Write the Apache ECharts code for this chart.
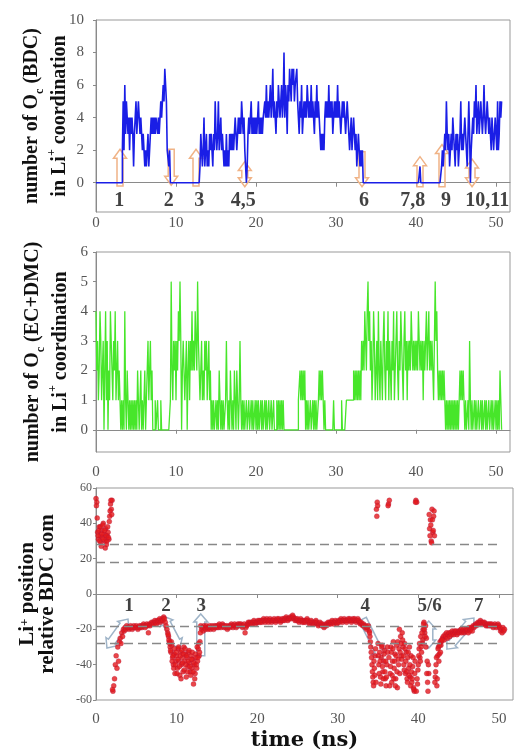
<!DOCTYPE html>
<html>
<head>
<meta charset="utf-8">
<script src="https://cdn.jsdelivr.net/npm/echarts@6/dist/echarts.min.js"></script>
<style>
  html, body { margin: 0; padding: 0; background: #fff; }
  #chart { width: 515px; height: 755px; }
</style>
</head>
<body>
<div id="chart"></div>
<script>
// sampling step of the trajectories (ns)
const timeStep = 0.1;

// number of O_c (BDC) in Li+ coordination, one row per ns
const bdcCount = [
  0,0,0,0,0,0,0,0,0,0, 0,0,0,0,0,0,0,0,0,0, 0,0,0,0,0,0,0,0,0,0,
  0,0,0,2,5,2,6,3,5,4, 3,4,2,4,3,4,3,1,3,4, 5,3,4,5,4,3,4,3,2,3,
  2,1,2,1,2,3,1,2,3,4, 3,4,3,4,3,4,4,3,4,3, 4,5,4,5,6,5,7,6,5,2,
  2,1,2,0,0,0,0,0,0,0, 0,0,0,0,0,0,0,0,0,0, 0,0,0,0,0,0,0,0,0,0,
  0,0,0,0,0,0,0,0,0,0, 1,3,2,1,2,4,1,2,3,1, 2,1,3,2,3,2,1,3,2,5,
  3,2,3,5,2,3,4,2,3,2, 1,2,1,3,1,2,1,3,2,3, 2,3,2,3,4,3,2,3,4,3,
  4,3,5,4,3,4,2,1,0,1, 3,4,3,4,5,3,4,3,4,3, 4,3,4,5,3,4,3,4,3,4,
  4,5,4,6,4,5,4,5,6,4, 5,7,4,5,4,3,5,4,6,5, 4,5,6,4,5,8,4,6,5,3,
  6,5,7,6,5,7,6,7,5,6, 6,7,5,4,3,5,4,6,3,4, 5,4,5,4,6,5,4,5,4,6,
  4,5,4,3,5,4,6,4,5,4, 3,2,3,2,3,2,4,5,4,5, 4,6,4,5,4,5,3,4,5,4,
  5,4,6,4,5,4,3,4,5,4, 5,4,3,4,5,4,3,2,3,4, 2,3,4,3,2,3,1,2,3,2,
  1,2,1,2,0,0,0,0,0,0, 0,0,0,0,0,0,0,0,0,0, 0,0,0,0,0,0,0,0,0,0,
  0,0,0,0,0,0,0,0,0,0, 0,0,0,0,0,0,0,0,0,0, 0,0,0,0,0,0,0,0,0,0,
  0,0,0,0,0,0,0,0,0,0, 0,0,0,0,0,1,0,0,0,0, 0,0,0,0,0,0,0,0,0,0,
  0,0,0,0,0,0,0,0,0,0, 0,0,1,2,1,2,3,2,5,3, 2,3,1,2,3,2,4,3,2,1,
  3,2,3,1,2,3,5,2,3,2, 3,4,3,2,1,3,5,3,0,2, 3,4,3,5,4,6,3,4,5,3,
  4,5,4,3,4,6,4,3,4,5, 4,3,4,3,2,4,3,2,3,4, 3,2,5,2,3,5,4,5
];

// number of O_c (EC+DMC) in Li+ coordination
const ecCount = [
  4,2,3,1,2,4,3,1,2,3, 0,2,4,1,3,0,2,1,4,3, 2,1,3,2,4,1,2,3,1,2,
  1,0,1,0,1,0,4,1,0,2, 1,0,1,0,1,0,1,0,1,0, 1,0,2,1,0,1,2,0,1,0,
  1,2,0,1,2,3,1,2,3,1, 2,0,0,0,1,0,0,1,0,0, 0,1,0,0,0,0,0,0,0,0,
  0,0,0,1,5,2,1,3,2,3, 1,3,2,4,3,5,3,0,2,3, 3,1,2,3,0,2,3,1,3,2,
  4,2,3,2,4,3,2,5,3,2, 1,2,3,1,2,1,3,2,3,1, 2,3,1,2,0,1,0,1,0,0,
  1,0,1,0,2,1,0,1,0,1, 0,0,1,3,1,0,1,0,2,1, 0,1,0,2,1,0,2,1,0,1,
  3,1,0,1,0,1,0,0,1,0, 0,1,0,0,1,0,1,0,0,1, 0,1,0,1,0,0,1,0,1,0,
  0,1,0,1,0,0,1,0,0,1, 0,0,1,0,0,0,1,0,1,0, 1,0,1,0,1,0,0,0,0,0,
  0,0,0,0,0,0,0,0,0,0, 0,0,0,1,1,2,1,2,1,2, 1,2,0,1,0,1,0,0,1,0,
  0,1,0,1,0,1,0,0,1,2, 1,2,1,2,1,0,1,0,0,0, 0,0,0,0,0,0,0,1,0,0,
  0,0,0,0,0,0,0,1,0,0, 0,0,0,1,1,1,1,1,1,1, 1,1,2,1,2,1,2,1,2,1,
  2,1,3,2,3,2,4,3,2,4, 5,3,4,2,3,1,2,4,3,1, 2,3,1,4,2,1,3,2,1,3,
  4,2,1,3,2,4,1,3,2,1, 3,2,4,1,2,3,4,2,1,3, 2,4,3,2,1,3,4,2,3,1,
  3,2,3,2,4,3,2,3,2,3, 2,3,2,4,3,2,3,2,3,1, 3,2,3,4,2,3,4,2,3,2,
  3,2,1,3,5,3,4,2,1,2, 1,2,1,2,1,2,1,0,1,0, 1,0,1,0,1,0,1,0,1,0,
  1,0,1,0,1,2,1,2,1,2, 1,0,1,0,0,1,0,3,1,0, 1,0,0,1,0,1,0,0,1,0,
  0,1,0,1,0,0,1,0,1,0, 0,1,0,0,1,0,1,0,0,1, 0,1,0,1,0,2,1,0
];

// Li+ position relative to BDC com
const liPos = [
  54,52,35,31,38,33,29,36,32,40, 34,30,37,28,33,35,31,44,51,48,
  53,-55,-52,-48,-40,-35,-42,-30,-38,-27, -25,-28,-22,-24,-20,-21,-19,-20,-18,-19,
  -19,-20,-19,-18,-19,-20,-19,-18,-19,-19, -18,-19,-20,-19,-18,-19,-18,-19,-18,-17,
  -18,-19,-18,-17,-18,-22,-17,-18,-17,-16, -17,-16,-17,-15,-16,-17,-15,-16,-15,-14,
  -16,-15,-14,-15,-13,-14,-16,-18,-20,-22, -24,-27,-30,-33,-29,-36,-40,-34,-45,-38,
  -35,-42,-31,-38,-46,-33,-40,-36,-44,-30, -38,-34,-47,-36,-41,-33,-39,-44,-35,-42,
  -37,-51,-40,-45,-36,-42,-38,-31,-35,-27, -18,-20,-19,-21,-18,-19,-20,-18,-19,-20,
  -19,-18,-20,-19,-18,-19,-20,-18,-19,-18, -19,-18,-19,-17,-18,-19,-18,-17,-18,-19,
  -18,-19,-18,-20,-19,-18,-19,-18,-17,-18, -19,-18,-17,-18,-19,-18,-17,-18,-17,-18,
  -17,-18,-19,-18,-17,-22,-19,-18,-17,-16, -17,-16,-17,-16,-17,-16,-15,-16,-17,-16,
  -16,-15,-16,-15,-16,-15,-16,-15,-14,-15, -16,-15,-14,-15,-16,-15,-14,-15,-16,-15,
  -15,-14,-15,-16,-15,-14,-15,-14,-15,-16, -15,-14,-15,-14,-15,-14,-13,-14,-15,-14,
  -14,-13,-14,-13,-12,-13,-14,-15,-14,-15, -14,-15,-16,-15,-14,-15,-16,-15,-16,-15,
  -16,-15,-14,-15,-16,-17,-16,-15,-16,-17, -16,-17,-16,-15,-16,-17,-18,-17,-16,-17,
  -18,-17,-18,-19,-18,-17,-18,-17,-16,-17, -16,-17,-16,-15,-16,-17,-16,-15,-16,-17,
  -16,-15,-16,-15,-14,-15,-16,-15,-14,-15, -15,-16,-15,-14,-15,-14,-15,-16,-15,-14,
  -15,-14,-15,-16,-15,-14,-15,-16,-17,-16, -17,-18,-17,-18,-19,-18,-20,-19,-18,-21,
  -24,-30,-36,-44,-50,-38,-46,-31,48,52, -28,-40,-33,-47,-36,-29,-44,-38,-32,-48,
  -52,-40,-33,51,53,-45,-30,-50,-38,-27, -42,-34,-48,-29,-53,-37,-31,-45,-24,-35,
  -22,-30,-40,-28,-45,-33,-48,-36,-42,-30, -47,-35,-50,-41,-53,-55,-38,53,52,-51,
  -40,-31,-36,-24,-33,-28,-20,-16,-22,-18, -25,-38,-55,-45,37,42,30,48,35,44,
  33,-47,-40,-52,-35,-30,-34,-27,-29,-26, -25,-24,-26,-23,-24,-22,-25,-23,-22,-24,
  -22,-23,-21,-22,-23,-21,-22,-21,-23,-22, -21,-22,-21,-20,-22,-21,-20,-22,-21,-20,
  -21,-20,-22,-19,-21,-20,-19,-21,-18,-19, -18,-17,-18,-17,-16,-17,-16,-15,-16,-17,
  -16,-17,-16,-17,-18,-17,-18,-17,-18,-17, -18,-17,-18,-19,-18,-17,-18,-19,-18,-17,
  -18,-19,-21,-20,-22,-19,-21,-20
];

// extra half-step samples inside the jumpy stretches of the bottom panel
const liBurstStart = [0.05, 8.95, 33.95];
const liBurstA = [
  50,43,33,36,30,38,27,34,39,31, 36,26,33,30,38,32,41,47,53,45, -54
];
const liBurstB = [
  -23,-26,-28,-32,-27,-38,-35,-42,-31,-40, -33,-45,-37,-30,-41,-35,-48,-32,-39,-34,
  -43,-31,-40,-35,-44,-38,-32,-41,-46,-37, -33,-44,-39,-48,-34,-40,-30,-36,-28,-33, -22
];
const liBurstC = [
  -22,-27,-33,-40,-47,-52,-42,-35,-50,44, 50,-35,-45,-38,-51,-30,-41,-48,-34,-44,
  -38,-47,-30,50,-36,-52,-41,-33,-46,-31, -48,-38,-52,-35,-44,-27,-40,-20,-33,-28,
  -37,-26,-35,-43,-31,-38,-44,-50,-33,-46, -40,-52,-44,-48,-36,-54,-45,52,-55,-48,
  -43,-35,-28,-38,-30,-22,-26,-17,-20,-24, -30,-45,-50,-40,45,33,39,29,42,36,
  47,-50,-44,-36,-48,-31,-38,-29,-33,-27, -26
];

// dashed reference levels in the bottom panel
const liGuides = [28, 18, -18, -28];
const liGuideEnd = 50.2;

// event labels
const bdcMarkT = [2.9, 9.1, 12.9, 18.4, 33.5, 39.6, 43.75, 48.9];
const bdcMarkText = ['1', '2', '3', '4,5', '6', '7,8', '9', '10,11'];
const bdcMarkV = -1.1;
const liMarkT = [4.1, 8.7, 13.05, 33.4, 41.4, 47.5];
const liMarkText = ['1', '2', '3', '4', '5/6', '7'];
const liMarkV = -6.8;

// arrows: [t1, v1, t2, v2, heads(1 = end only, 2 = both)]
const bdcArrows = [
  [3.0, -0.2, 3.0, 2.05, 1], [9.4, 2.05, 9.4, -0.15, 1], [12.5, -0.2, 12.5, 2.05, 1],
  [18.6, -0.25, 18.6, 1.3, 2], [33.25, 1.9, 33.25, -0.25, 1], [40.5, -0.25, 40.5, 1.6, 1],
  [43.25, -0.25, 43.25, 2.35, 1], [47.0, -0.25, 47.0, 1.45, 2]
];
const liArrows = [
  [1.36, -30.6, 3.97, -14.2, 2], [8.3, -12.5, 10.4, -30.6, 2], [13.0, -35, 13.0, -11.3, 1],
  [33.1, -14.2, 35.5, -36.3, 1], [41.3, -15.3, 41.3, -30.6, 2], [43.55, -31.2, 46.9, -13.6, 2]
];

const serif = '"Liberation Serif", "Times New Roman", serif';
const toPairs = vals => vals.map((v, i) => [+(i * timeStep).toFixed(1), v]);
const burstPairs = (start, vals) => vals.map((v, i) => [+(start + i * timeStep).toFixed(2), v]);
const toMarks = (ts, texts, v) => ts.map((t, i) => ({ name: texts[i], value: [t, v] }));

const liPoints = toPairs(liPos).concat(
  burstPairs(liBurstStart[0], liBurstA),
  burstPairs(liBurstStart[1], liBurstB),
  burstPairs(liBurstStart[2], liBurstC)
);

function arrowItem(color, headLen, headHalf, stemHalf) {
  return function (params, api) {
    const a = api.coord([api.value(0), api.value(1)]);
    const b = api.coord([api.value(2), api.value(3)]);
    const both = api.value(4) === 2;
    const dx = b[0] - a[0], dy = b[1] - a[1];
    const len = Math.hypot(dx, dy);
    const ux = dx / len, uy = dy / len, nx = -uy, ny = ux;
    const pt = (s, o) => [a[0] + ux * s + nx * o, a[1] + uy * s + ny * o];
    const e = len - headLen;
    const pts = both
      ? [pt(0, 0), pt(headLen, headHalf), pt(headLen, stemHalf), pt(e, stemHalf), pt(e, headHalf),
         pt(len, 0), pt(e, -headHalf), pt(e, -stemHalf), pt(headLen, -stemHalf), pt(headLen, -headHalf)]
      : [pt(0, stemHalf), pt(e, stemHalf), pt(e, headHalf), pt(len, 0),
         pt(e, -headHalf), pt(e, -stemHalf), pt(0, -stemHalf)];
    return {
      type: 'polygon',
      shape: { points: pts },
      style: { fill: 'none', stroke: color, lineWidth: 1.5 }
    };
  };
}

function titleStyle(size, lh) {
  const base = { fontFamily: serif, fontWeight: 'bold', color: '#111' };
  const small = Math.round(size * 0.6);
  return Object.assign({}, base, {
    fontSize: size,
    lineHeight: lh,
    rich: {
      t: Object.assign({}, base, { fontSize: size, lineHeight: lh }),
      sub: Object.assign({}, base, { fontSize: small, lineHeight: small, verticalAlign: 'bottom' }),
      sup: Object.assign({}, base, { fontSize: small, lineHeight: small, verticalAlign: 'top' })
    }
  });
}

const axisGray = '#8a8a8a';
const labelGray = '#555';

function xAxisFor(i, margin) {
  return {
    gridIndex: i,
    type: 'value',
    min: 0,
    max: 51.75,
    interval: 10,
    axisLine: { lineStyle: { color: axisGray } },
    axisTick: { length: 4, lineStyle: { color: axisGray } },
    axisLabel: { fontFamily: serif, fontSize: 15, color: labelGray, margin: margin },
    splitLine: { show: false }
  };
}

function yAxisFor(i, min, max, labels, margin, fontSize, name, gap, tstyle) {
  return {
    gridIndex: i,
    type: 'value',
    min: min,
    max: max,
    axisLine: { show: true, lineStyle: { color: axisGray } },
    axisTick: { show: true, length: 3, customValues: labels, lineStyle: { color: axisGray } },
    axisLabel: { fontFamily: serif, fontSize: fontSize, color: labelGray, margin: margin, customValues: labels },
    splitLine: { show: false },
    name: name,
    nameLocation: 'middle',
    nameRotate: 90,
    nameGap: gap,
    nameMoveOverlap: false,
    nameTextStyle: tstyle
  };
}

const markLabel = {
  show: true,
  position: 'inside',
  formatter: p => p.name,
  fontFamily: serif,
  fontWeight: 'bold',
  color: '#111'
};

const chart = echarts.init(document.getElementById('chart'));
const xs = xAxisFor(2, 12);
xs.name = 'time (ns)';
xs.nameLocation = 'middle';
xs.nameGap = 30;
xs.nameMoveOverlap = false;
xs.nameTextStyle = { fontFamily: '"DejaVu Serif", serif', fontWeight: 'bold', fontSize: 21, color: '#111' };

chart.setOption({
  animation: false,
  backgroundColor: '#fff',
  grid: [
    { left: 96, right: 5, top: 20, height: 192, show: true, borderColor: '#999', outerBoundsMode: 'none' },
    { left: 96, right: 5, top: 252, height: 200, show: true, borderColor: '#999', outerBoundsMode: 'none' },
    { left: 96, right: 2, top: 488, height: 212, show: true, borderColor: '#999', outerBoundsMode: 'none' }
  ],
  xAxis: [xAxisFor(0, 4), xAxisFor(1, 13), xs],
  yAxis: [
    yAxisFor(0, -1.8, 10, [0, 2, 4, 6, 8, 10], 12, 15,
      '{t|number of O}{sub|c}{t| (BDC)}\n{t|in Li}{sup|+}{t| coordination}', 22, titleStyle(20, 28)),
    yAxisFor(1, -0.75, 6, [0, 1, 2, 3, 4, 5, 6], 8, 15,
      '{t|number of O}{sub|c}{t| (EC+DMC)}\n{t|in Li}{sup|+}{t| coordination}', 21, titleStyle(20, 28)),
    yAxisFor(2, -60, 60, [-60, -40, -20, 0, 20, 40, 60], 4, 12,
      '{t|Li}{sup|+}{t| position}\n{t|relative BDC com}', 38, titleStyle(21, 20))
  ],
  series: [
    {
      type: 'custom', xAxisIndex: 0, yAxisIndex: 0, z: 1, silent: true,
      renderItem: arrowItem('#f0b386', 9, 6.5, 3),
      encode: { x: [0, 2], y: [1, 3] },
      data: bdcArrows
    },
    {
      type: 'line', xAxisIndex: 0, yAxisIndex: 0, z: 2,
      step: 'end', showSymbol: false, symbol: 'none',
      lineStyle: { color: '#1a1ee6', width: 1.6 },
      data: toPairs(bdcCount)
    },
    {
      type: 'scatter', xAxisIndex: 0, yAxisIndex: 0, z: 3, silent: true,
      symbolSize: 1, itemStyle: { color: 'rgba(0,0,0,0)' },
      label: Object.assign({ fontSize: 20 }, markLabel),
      data: toMarks(bdcMarkT, bdcMarkText, bdcMarkV)
    },
    {
      type: 'line', xAxisIndex: 1, yAxisIndex: 1, z: 2,
      step: 'end', showSymbol: false, symbol: 'none',
      lineStyle: { color: '#47e62a', width: 1.3 },
      data: toPairs(ecCount)
    },
    {
      type: 'line', xAxisIndex: 2, yAxisIndex: 2, z: 1, data: [],
      markLine: {
        silent: true, symbol: 'none', label: { show: false },
        lineStyle: { type: [9, 5], color: '#888', width: 1.3 },
        data: liGuides.map(v => [{ coord: [0, v] }, { coord: [liGuideEnd, v] }])
      }
    },
    {
      type: 'custom', xAxisIndex: 2, yAxisIndex: 2, z: 2, silent: true,
      renderItem: arrowItem('#9fb4c8', 8, 7, 4),
      encode: { x: [0, 2], y: [1, 3] },
      data: liArrows
    },
    {
      type: 'scatter', xAxisIndex: 2, yAxisIndex: 2, z: 3,
      symbolSize: 5,
      itemStyle: { color: '#e3191c', borderColor: '#b2123a', borderWidth: 0.4 },
      data: liPoints
    },
    {
      type: 'scatter', xAxisIndex: 2, yAxisIndex: 2, z: 4, silent: true,
      symbolSize: 1, itemStyle: { color: 'rgba(0,0,0,0)' },
      label: Object.assign({ fontSize: 19 }, markLabel),
      data: toMarks(liMarkT, liMarkText, liMarkV)
    }
  ]
});
window.addEventListener('resize', function () {
  chart.resize();
});
</script>
</body>
</html>
